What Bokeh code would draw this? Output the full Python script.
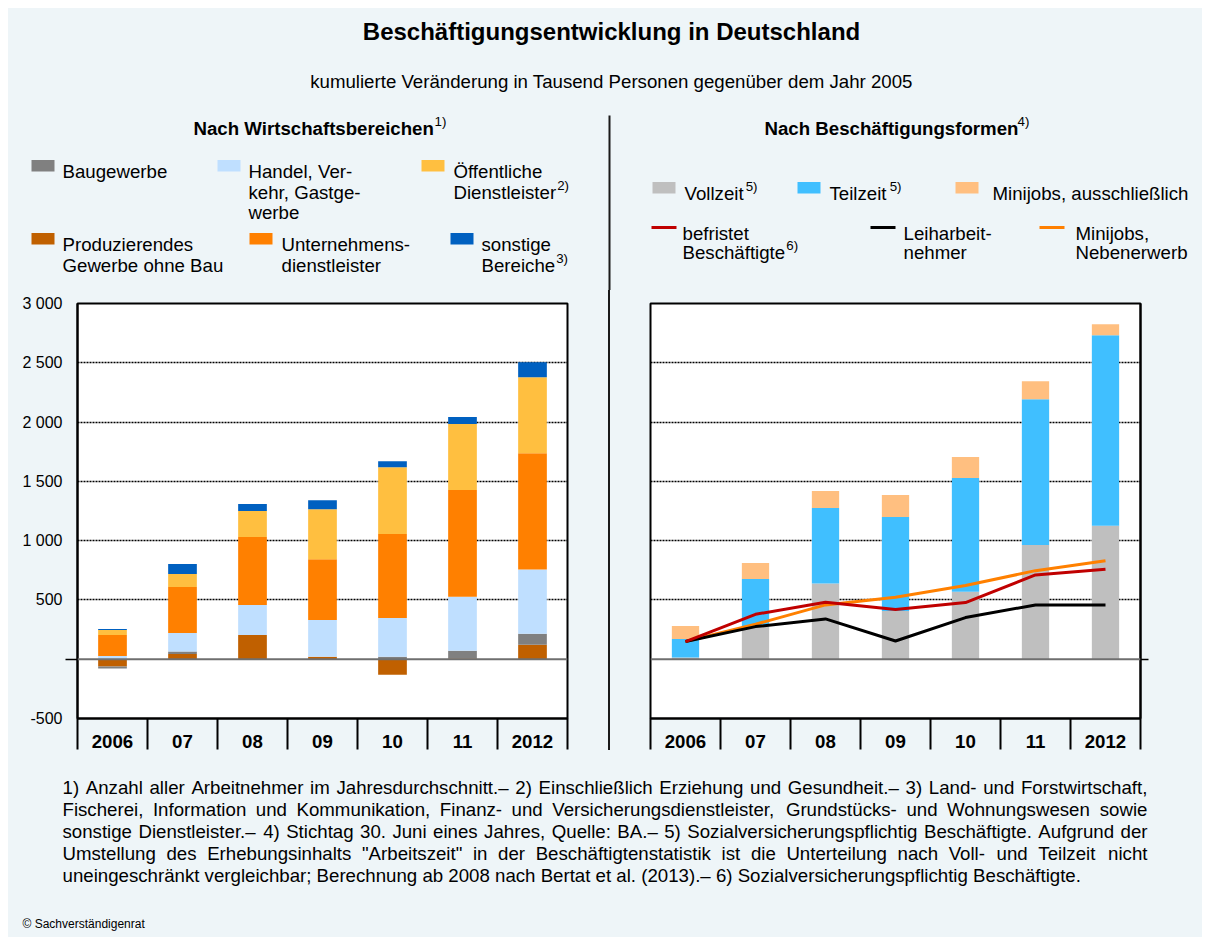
from bokeh.plotting import figure
from bokeh.models import Range1d, FixedTicker, Span, Label, LabelSet, ColumnDataSource, Div
from bokeh.layouts import column, row
from bokeh.embed import file_html
from bokeh.resources import INLINE
from bokeh.core.properties import value

# ---------------- data ----------------
years = ["2006", "07", "08", "09", "10", "11", "2012"]

# Nach Wirtschaftsbereichen (Tsd. Personen, kumuliert ggü. 2005)
produzierendes = [-62, 45, 205, 20, -132, 6, 121]
baugewerbe = [-17, 20, 0, 0, 20, 65, 93]
handel = [28, 157, 253, 311, 328, 455, 542]
unternehmens = [177, 387, 572, 513, 707, 901, 982]
oeffentliche = [42, 109, 219, 421, 564, 556, 640]
sonstige = [8, 84, 59, 76, 50, 59, 126]

# Nach Beschäftigungsformen
vollzeit = [14, 275, 638, 407, 570, 963, 1126]
teilzeit = [157, 402, 638, 792, 958, 1230, 1607]
minijobs_ausschl = [110, 135, 143, 185, 177, 152, 93]
befristet = [149, 379, 480, 419, 478, 711, 758]
leiharbeit = [149, 275, 340, 154, 351, 458, 458]
minijobs_neben = [149, 295, 458, 522, 621, 747, 831]

y_ticks = [-500, 0, 500, 1000, 1500, 2000, 2500, 3000]
y_tick_labels = ["-500", "0", "500", "1 000", "1 500", "2 000", "2 500", "3 000"]

title_text = "Beschäftigungsentwicklung in Deutschland"
subtitle_text = "kumulierte Veränderung in Tausend Personen gegenüber dem Jahr 2005"
left_panel_title = "Nach Wirtschaftsbereichen"
left_panel_note = "1)"
right_panel_title = "Nach Beschäftigungsformen"
right_panel_note = "4)"

left_legend_lines = [["Baugewerbe"], ["Handel, Ver-", "kehr, Gastge-", "werbe"],
                     ["Öffentliche", "Dienstleister"], ["Produzierendes", "Gewerbe ohne Bau"],
                     ["Unternehmens-", "dienstleister"], ["sonstige", "Bereiche"]]
left_legend_notes = ["", "", "2)", "", "", "3)"]
right_legend_lines = [["Vollzeit"], ["Teilzeit"], ["Minijobs, ausschließlich"],
                      ["befristet", "Beschäftigte"], ["Leiharbeit-", "nehmer"],
                      ["Minijobs,", "Nebenerwerb"]]
right_legend_notes = ["5)", "5)", "", "6)", "", ""]

footnote_lines = [
    "1) Anzahl aller Arbeitnehmer im Jahresdurchschnitt.– 2) Einschließlich Erziehung und Gesundheit.– 3) Land- und Forstwirtschaft,",
    "Fischerei, Information und Kommunikation, Finanz- und Versicherungsdienstleister, Grundstücks- und Wohnungswesen sowie",
    "sonstige Dienstleister.–  4) Stichtag 30. Juni eines Jahres, Quelle: BA.– 5) Sozialversicherungspflichtig Beschäftigte. Aufgrund der",
    "Umstellung des Erhebungsinhalts \"Arbeitszeit\" in der Beschäftigtenstatistik ist die Unterteilung nach Voll- und Teilzeit nicht",
    "uneingeschränkt vergleichbar; Berechnung ab 2008 nach Bertat et al. (2013).– 6) Sozialversicherungspflichtig Beschäftigte.",
]
copyright_text = "© Sachverständigenrat"

# ---------------- styles / layout ----------------
BG = "#EEF5F8"
FONT = "Liberation Sans"
FS = "18.67px"
FS_NUM = 18.67
SUP = "13.33px"
C_BAU = "#808080"
C_PROD = "#C06000"
C_HANDEL = "#BFDFFF"
C_UNTERN = "#FF8000"
C_OEFF = "#FFBF40"
C_SONST = "#0060C0"
C_VOLL = "#BFBFBF"
C_TEIL = "#40BFFF"
C_MINI_A = "#FFBF80"
C_BEFR = "#C00000"
C_LEIH = "#000000"
C_MINI_N = "#FF8000"
SEP_COLOR = "#1a1a1a"

HEAD_TOP, HEAD_BOT, MID_BOT, FOOT_BOT = 8, 290, 765, 937
FRAME_TOP, FRAME_BOT = 303, 718
SEP_BOT = 750
MID_H = MID_BOT - HEAD_BOT
X_TICK_OUT = 31
Y_TICK_OUT_L = 12
Y_TICK_OUT_R = 8

ARIAL_W = {' ': 278, '!': 278, '"': 355, '(': 333, ')': 333, ',': 278, '-': 333, '.': 278,
           ':': 278, ';': 278, '–': 556, '©': 737, 'ß': 611, 'ä': 556, 'ö': 556, 'ü': 556,
           'Ä': 667, 'Ö': 778, 'Ü': 722}
for ch in "0123456789":
    ARIAL_W[ch] = 556
ARIAL_W.update(dict(zip("ABCDEFGHIJKLMNOPQRSTUVWXYZ",
                        [667, 667, 722, 722, 667, 611, 778, 722, 278, 500, 667, 556, 833, 722, 778,
                         667, 778, 722, 667, 611, 722, 667, 944, 667, 667, 611])))
ARIAL_W.update(dict(zip("abcdefghijklmnopqrstuvwxyz",
                        [556, 556, 500, 556, 556, 278, 556, 556, 222, 222, 500, 222, 833, 556, 556,
                         556, 556, 333, 500, 278, 556, 500, 722, 500, 500, 500])))


def text_w(s, size):
    return sum(ARIAL_W.get(c, 556) for c in s) * size / 1000.0


def put_text(p, xs, ys, texts, size, bold=False, align="left", color="#000000"):
    p.text(x=xs, y=ys, text=texts, text_font=value(FONT), text_font_size=value(size),
           text_font_style="bold" if bold else "normal", text_align=align,
           text_baseline="alphabetic", text_color=color)


def canvas_fig(width, height, x0, x1, y0, y1):
    p = figure(width=width, height=height, x_range=Range1d(x0, x1), y_range=Range1d(y1, y0),
               x_axis_type=None, y_axis_type=None, min_border=0, toolbar_location=None,
               output_backend="svg", background_fill_color=BG, border_fill_color=BG,
               outline_line_color=None)
    p.grid.visible = False
    return p


# ---------------- header ----------------
head = canvas_fig(1194, HEAD_BOT - HEAD_TOP, 8, 1202, HEAD_TOP, HEAD_BOT)
put_text(head, [611], [31], [title_text], "24px", bold=True, align="center")
put_text(head, [611], [81], [subtitle_text], FS, align="center")
put_text(head, [193, 764], [128, 128], [left_panel_title, right_panel_title], FS, bold=True)
put_text(head, [434, 1017], [121, 121], [left_panel_note, right_panel_note], SUP)
head.segment(x0=[609], y0=[115], x1=[609], y1=[HEAD_BOT + 2], line_color=SEP_COLOR, line_width=2)

# left legend
left_colors = [C_BAU, C_HANDEL, C_OEFF, C_PROD, C_UNTERN, C_SONST]
left_swatch_x = [31, 217, 421, 31, 249, 450]
left_text_x = [62, 248, 453, 62, 281, 481]
left_base = [171, 171, 171, 244, 244, 244]
LGAP = 20.5
for lines, note, col, sx, tx, b in zip(left_legend_lines, left_legend_notes, left_colors,
                                       left_swatch_x, left_text_x, left_base):
    head.quad(left=[sx], right=[sx + 23], top=[b - 11.5], bottom=[b], color=col, line_color=None)
    put_text(head, [tx] * len(lines), [b + i * LGAP for i in range(len(lines))], lines, FS)
    if note:
        last = lines[-1]
        put_text(head, [tx + text_w(last, FS_NUM) + 1], [b + (len(lines) - 1) * LGAP - 7], [note], SUP)

# right legend
right_colors = [C_VOLL, C_TEIL, C_MINI_A, C_BEFR, C_LEIH, C_MINI_N]
right_kind = ["box", "box", "box", "line", "line", "line"]
right_marker_x = [652, 797, 955, 651, 870, 1039]
right_text_x = [684, 829, 992, 682, 903, 1075]
right_base = [193, 193, 193, 233, 233, 233]
RGAP = 19
for lines, note, col, kind, mx, tx, b in zip(right_legend_lines, right_legend_notes, right_colors,
                                             right_kind, right_marker_x, right_text_x, right_base):
    if kind == "box":
        head.quad(left=[mx], right=[mx + 23], top=[b - 11.5], bottom=[b], color=col, line_color=None)
    else:
        head.segment(x0=[mx], y0=[b - 6], x1=[mx + 25], y1=[b - 6], line_color=col, line_width=3)
    put_text(head, [tx] * len(lines), [b + i * RGAP for i in range(len(lines))], lines, FS)
    if note:
        last = lines[-1]
        put_text(head, [tx + text_w(last, FS_NUM) + 1], [b + (len(lines) - 1) * RGAP - 7], [note], SUP)


# ---------------- charts ----------------
def stack(series_list):
    n = len(series_list[0])
    pos = [0.0] * n
    neg = [0.0] * n
    out = []
    for s in series_list:
        b, t = [], []
        for i, v in enumerate(s):
            if v >= 0:
                b.append(pos[i]); t.append(pos[i] + v); pos[i] += v
            else:
                b.append(neg[i]); t.append(neg[i] + v); neg[i] += v
        out.append((b, t))
    return out


def build_chart(width, ml, mr, side):
    n = len(years)
    p = figure(width=width, height=MID_H, x_range=Range1d(0.5, n + 0.5),
               y_range=Range1d(y_ticks[0], y_ticks[-1]),
               min_border_left=ml, min_border_right=mr, min_border_top=FRAME_TOP - HEAD_BOT,
               min_border_bottom=MID_BOT - FRAME_BOT, toolbar_location=None, output_backend="svg",
               y_axis_location=side, background_fill_color="white", border_fill_color=BG,
               outline_line_color="black", outline_line_width=2)
    xs = list(range(1, n + 1))
    xax = p.xaxis[0]
    xax.ticker = FixedTicker(ticks=xs, minor_ticks=[x - 0.5 for x in xs] + [xs[-1] + 0.5])
    xax.major_label_overrides = {x: lab for x, lab in zip(xs, years)}
    xax.major_tick_in = 0
    xax.major_tick_out = 0
    xax.minor_tick_in = 0
    xax.minor_tick_out = X_TICK_OUT
    xax.minor_tick_line_color = "black"
    xax.minor_tick_line_width = 2
    xax.axis_line_color = "black"
    xax.axis_line_width = 2
    xax.major_label_text_font = FONT
    xax.major_label_text_font_size = FS
    xax.major_label_text_font_style = "bold"
    xax.major_label_text_color = "black"
    xax.major_label_standoff = 16 - X_TICK_OUT

    yax = p.yaxis[0]
    yax.ticker = FixedTicker(ticks=y_ticks, minor_ticks=[0])
    yax.major_tick_in = 0
    yax.major_tick_out = 0
    yax.minor_tick_in = 0
    yax.minor_tick_out = Y_TICK_OUT_L if side == "left" else Y_TICK_OUT_R
    yax.minor_tick_line_color = "black"
    yax.minor_tick_line_width = 1.5
    yax.axis_line_color = "black"
    yax.axis_line_width = 2
    yax.major_label_text_font = FONT
    yax.major_label_text_font_size = "16px"
    yax.major_label_text_color = "black"
    yax.major_label_standoff = 15 - Y_TICK_OUT_L
    if side == "left":
        yax.major_label_overrides = {t: ("" if t == 0 else lab) for t, lab in zip(y_ticks, y_tick_labels)}
    else:
        yax.major_label_overrides = {t: "" for t in y_ticks}

    p.xgrid.visible = False
    p.ygrid.ticker = FixedTicker(ticks=[t for t in y_ticks if t not in (0, y_ticks[0], y_ticks[-1])])
    p.ygrid.grid_line_color = "black"
    p.ygrid.grid_line_dash = "2 1"
    p.ygrid.grid_line_width = 1.5
    return p, xs


left, xs = build_chart(600, 69, 41, "left")
left_series = [produzierendes, baugewerbe, handel, unternehmens, oeffentliche, sonstige]
left_cols = [C_PROD, C_BAU, C_HANDEL, C_UNTERN, C_OEFF, C_SONST]
for (b, t), col in zip(stack(left_series), left_cols):
    left.vbar(x=xs, bottom=b, top=t, width=0.41, color=col, line_color=None)
left.add_layout(Span(location=0, dimension="width", line_color="#6F6F6F", line_width=2))
left.add_layout(Label(x=0.5, y=0, x_offset=-15, text="0", text_align="right", text_baseline="middle",
                      text_font=FONT, text_font_size="16px", text_font_style="bold", text_color="black"))

right, xs2 = build_chart(592, 40, 62, "right")
right_series = [vollzeit, teilzeit, minijobs_ausschl]
right_cols = [C_VOLL, C_TEIL, C_MINI_A]
for (b, t), col in zip(stack(right_series), right_cols):
    right.vbar(x=xs2, bottom=b, top=t, width=0.39, color=col, line_color=None)
right.add_layout(Span(location=0, dimension="width", line_color="#6F6F6F", line_width=2))
for vals, col in [(minijobs_neben, C_MINI_N), (leiharbeit, C_LEIH), (befristet, C_BEFR)]:
    right.line(x=xs2, y=vals, line_color=col, line_width=3, line_join="round")
r_src = ColumnDataSource(dict(x=[len(years) + 0.5] * (len(y_ticks) - 1),
                              y=[t for t in y_ticks if t != 0],
                              text=[l for t, l in zip(y_ticks, y_tick_labels) if t != 0]))
right.add_layout(LabelSet(x="x", y="y", text="text", source=r_src, x_offset=55, text_align="right",
                          text_baseline="middle", text_font=value(FONT), text_font_size=value("16px"),
                          text_color="black"))
right.add_layout(Label(x=len(years) + 0.5, y=0, x_offset=55, text="0", text_align="right",
                       text_baseline="middle", text_font=FONT, text_font_size="16px",
                       text_font_style="bold", text_color="black"))

sep = Div(text='<div style="width:2px;height:%dpx;background:%s;margin:0;padding:0"></div>'
          % (SEP_BOT - HEAD_BOT, SEP_COLOR),
          width=2, height=MID_H, margin=0, styles={"overflow": "hidden", "padding": "0"})

# ---------------- footer ----------------
foot = canvas_fig(1194, FOOT_BOT - MID_BOT, 8, 1202, MID_BOT, FOOT_BOT)
FX0, FX1 = 62, 1147
for i, line in enumerate(footnote_lines):
    yb = 786.5 + i * 22.2
    if i < len(footnote_lines) - 1:
        words = [w for w in line.split(" ") if w]
        ws = [text_w(w, FS_NUM) for w in words]
        gap = (FX1 - FX0 - sum(ws)) / (len(words) - 1)
        xpos, x = [], FX0
        for w in ws:
            xpos.append(x)
            x += w + gap
        put_text(foot, xpos, [yb] * len(words), words, FS)
    else:
        put_text(foot, [FX0], [yb], [line], FS)
put_text(foot, [22], [923], [copyright_text], "12px")

layout = column(head, row(left, sep, right, styles={"background-color": BG}), foot,
                margin=(8, 8, 8, 8), styles={"background-color": BG})
open("out.html", "w").write(file_html(layout, INLINE))
